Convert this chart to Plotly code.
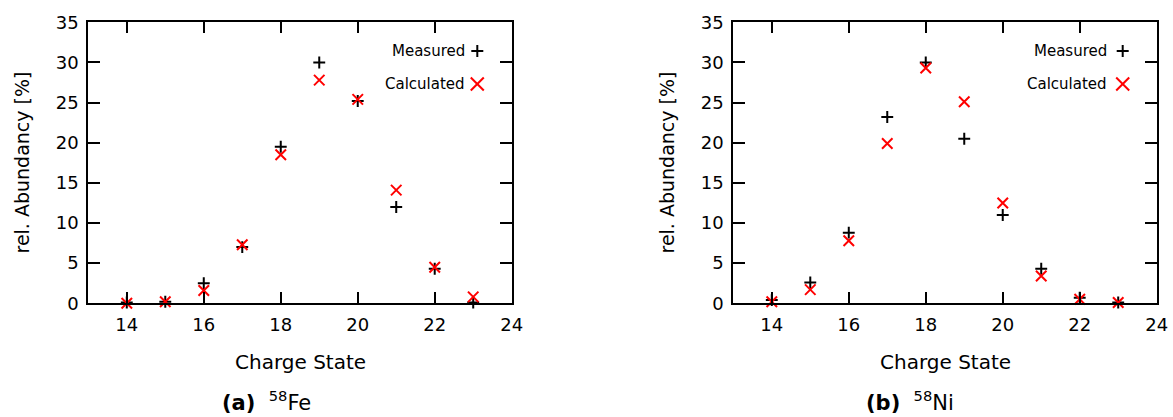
import plotly.graph_objects as go

W, H = 1173, 417

charge_states = [14, 15, 16, 17, 18, 19, 20, 21, 22, 23]

fe_measured = [0.1, 0.2, 2.5, 7.0, 19.5, 30.0, 25.2, 12.0, 4.3, 0.1]
fe_calculated = [0.0, 0.2, 1.6, 7.3, 18.5, 27.8, 25.4, 14.1, 4.5, 0.8]

ni_measured = [0.4, 2.6, 8.8, 23.2, 30.0, 20.5, 11.0, 4.3, 0.7, 0.1]
ni_calculated = [0.2, 1.7, 7.8, 19.9, 29.3, 25.1, 12.5, 3.4, 0.5, 0.1]

x_ticks = [14, 16, 18, 20, 22, 24]
y_ticks = [0, 5, 10, 15, 20, 25, 30, 35]

FONT = "DejaVu Sans"


def px(xp):
    return xp / W


def py(yp):
    return 1 - yp / H


panels = [
    dict(meas=fe_measured, calc=fe_calculated, xl=88.3, xr=511.7,
         cap="<b>(a)</b>  <sup>58</sup>Fe", capx=266, legtext=466.7, legmark=477.3),
    dict(meas=ni_measured, calc=ni_calculated, xl=733.3, xr=1156.7,
         cap="<b>(b)</b>  <sup>58</sup>Ni", capx=910, legtext=1108.7, legmark=1122.7),
]

fig = go.Figure()
annotations = []
shapes = []
y_top, y_bot = 22.3, 303.3

for i, p in enumerate(panels):
    xa = "x" if i == 0 else "x2"
    ya = "y" if i == 0 else "y2"
    fig.add_trace(go.Scatter(
        x=charge_states, y=p["meas"], mode="markers", name="Measured",
        xaxis=xa, yaxis=ya, cliponaxis=False, showlegend=False,
        marker=dict(symbol="cross-thin", size=8.5, color="black",
                    line=dict(color="black", width=2)),
    ))
    fig.add_trace(go.Scatter(
        x=charge_states, y=p["calc"], mode="markers", name="Calculated",
        xaxis=xa, yaxis=ya, cliponaxis=False, showlegend=False,
        marker=dict(symbol="x-thin", size=10.5, color="red",
                    line=dict(color="red", width=2)),
    ))
    axis_common = dict(
        showline=True, linewidth=2, linecolor="black", mirror="ticks",
        ticks="inside", tickwidth=2, tickcolor="black", showgrid=False,
        zeroline=False, automargin=False,
        tickfont=dict(family=FONT, size=18, color="black"),
    )
    xkey = "xaxis" if i == 0 else "xaxis2"
    ykey = "yaxis" if i == 0 else "yaxis2"
    fig.update_layout({
        xkey: dict(domain=[px(p["xl"]), px(p["xr"])], range=[13, 24],
                   tickvals=x_ticks, ticklen=11, anchor=ya,
                   ticklabelstandoff=4, **axis_common),
        ykey: dict(domain=[py(y_bot), py(y_top)], range=[0, 35],
                   tickvals=y_ticks, ticklen=12, anchor=xa,
                   ticklabelstandoff=4, **axis_common),
    })
    # axis titles
    annotations.append(dict(
        text="Charge State", x=px((p["xl"] + p["xr"]) / 2), y=py(361.5),
        xref="paper", yref="paper", showarrow=False,
        font=dict(family=FONT, size=20, color="black"),
        xanchor="center", yanchor="middle"))
    annotations.append(dict(
        text="rel. Abundancy [%]", x=px(p["xl"] - 66.8), y=py(163),
        xref="paper", yref="paper", showarrow=False, textangle=-90,
        font=dict(family=FONT, size=19, color="black"),
        xanchor="center", yanchor="middle"))
    annotations.append(dict(
        text=p["cap"], x=px(p["capx"]), y=py(401),
        xref="paper", yref="paper", showarrow=False,
        font=dict(family=FONT, size=21, color="black"),
        xanchor="center", yanchor="middle"))
    # legend (text left of symbol)
    for j, (label, ypix) in enumerate([("Measured", 51), ("Calculated", 84)]):
        annotations.append(dict(
            text=label, x=px(p["legtext"]), y=py(ypix),
            xref="paper", yref="paper", showarrow=False,
            font=dict(family=FONT, size=15, color="black"),
            xanchor="right", yanchor="middle"))
        cx, cy = p["legmark"], ypix
        if j == 0:
            s = 6
            shapes.append(dict(type="line", xref="paper", yref="paper",
                               x0=px(cx - s), x1=px(cx + s), y0=py(cy), y1=py(cy),
                               line=dict(color="black", width=2)))
            shapes.append(dict(type="line", xref="paper", yref="paper",
                               x0=px(cx), x1=px(cx), y0=py(cy - s), y1=py(cy + s),
                               line=dict(color="black", width=2)))
        else:
            s = 6.5
            shapes.append(dict(type="line", xref="paper", yref="paper",
                               x0=px(cx - s), x1=px(cx + s), y0=py(cy - s), y1=py(cy + s),
                               line=dict(color="red", width=2)))
            shapes.append(dict(type="line", xref="paper", yref="paper",
                               x0=px(cx - s), x1=px(cx + s), y0=py(cy + s), y1=py(cy - s),
                               line=dict(color="red", width=2)))

fig.update_layout(
    template="none",
    width=W, height=H,
    margin=dict(l=0, r=0, t=0, b=0, pad=0),
    paper_bgcolor="white", plot_bgcolor="white",
    showlegend=False,
    annotations=annotations, shapes=shapes,
    font=dict(family=FONT, color="black"),
)

fig.write_html("out.html")
